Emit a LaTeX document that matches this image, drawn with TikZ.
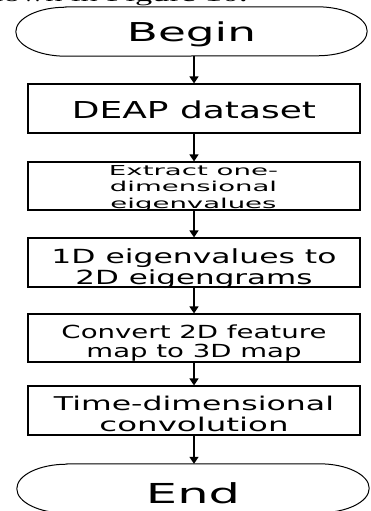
\documentclass[tikz,border=0pt]{standalone}
\usepackage{fontspec}
\setmainfont{DejaVu Sans}
\newfontfamily\serifcut{Liberation Serif}
\usetikzlibrary{arrows.meta}
\newcommand{\fitw}[2]{\resizebox{#1}{\height}{#2}}
\begin{document}
\begin{tikzpicture}[x=1pt,y=-1pt,
  stepbox/.style={draw, line width=1.2pt, minimum width=332pt, inner sep=0pt},
  termshape/.style={inner sep=0pt, minimum width=351pt, minimum height=49pt},
  termline/.style={line width=1pt},
  txt/.style={anchor=base, inner sep=0pt},
  flow/.style={line width=1.2pt, -{Triangle[length=7pt,width=9pt]}},
]
\useasboundingbox (0,0) rectangle (370,511);
\clip (0,0) rectangle (370,511);

% clipped fragment of the preceding text line
\node[anchor=base east, inner sep=0pt, font=\serifcut\fontsize{20}{20}\selectfont] (cut) at (248,1.5) {\fitw{275pt}{shown in Figure 10.}};

% terminators
\node[termshape] (begin) at (191.5,31.5) {};
\node[termshape, minimum width=352pt] (end) at (193,488.5) {};
\foreach \t in {begin,end}{
  \draw[termline] ([xshift=50pt]\t.north west) -- ([xshift=-50pt]\t.north east)
    arc[start angle=90, end angle=-90, x radius=50pt, y radius=24.5pt]
    -- ([xshift=50pt]\t.south west)
    arc[start angle=270, end angle=90, x radius=50pt, y radius=24.5pt] -- cycle;
}

% process boxes
\node[stepbox, minimum height=49pt] (deap) at (194,108.5) {};
\node[stepbox, minimum height=48pt] (extract) at (194,186) {};
\node[stepbox, minimum height=49pt] (oned) at (194,262.5) {};
\node[stepbox, minimum height=48pt] (convert) at (194,338) {};
\node[stepbox, minimum height=49pt] (time) at (194,410.5) {};

% texts
\node[txt, font=\fontsize{26}{26}\selectfont] (tbegin) at (191.5,42) {\fitw{129pt}{Begin}};
\node[txt, font=\fontsize{23.3}{23.3}\selectfont] (tdeap) at (194,118) {\fitw{244pt}{DEAP dataset}};
\node[txt, font=\fontsize{13.7}{13.7}\selectfont] (tex1) at (193.5,175) {\fitw{169pt}{Extract one-}};
\node[txt, font=\fontsize{13.7}{13.7}\selectfont] (tex2) at (193.5,191.5) {\fitw{167pt}{dimensional}};
\node[txt, font=\fontsize{13.7}{13.7}\selectfont] (tex3) at (193.5,208) {\fitw{166pt}{eigenvalues}};
\node[txt, font=\fontsize{19.5}{19.5}\selectfont] (t1d1) at (194,263.5) {\fitw{285pt}{1D eigenvalues to}};
\node[txt, font=\fontsize{19.5}{19.5}\selectfont] (t1d2) at (194,284) {\fitw{237pt}{2D eigengrams}};
\node[txt, font=\fontsize{18}{18}\selectfont] (tcv1) at (194,338) {\fitw{265pt}{Convert 2D feature}};
\node[txt, font=\fontsize{18}{18}\selectfont] (tcv2) at (194,357.5) {\fitw{215pt}{map to 3D map}};
\node[txt, font=\fontsize{19}{19}\selectfont] (ttm1) at (194,410) {\fitw{280pt}{Time-dimensional}};
\node[txt, font=\fontsize{19}{19}\selectfont] (ttm2) at (194,431) {\fitw{189pt}{convolution}};
\node[txt, font=\fontsize{27.5}{27.5}\selectfont] (tend) at (193,503) {\fitw{94pt}{End}};

% connectors
\draw[flow] (deap.north |- begin.south) -- (deap.north);
\draw[flow] (deap.south) -- (extract.north);
\draw[flow] (extract.south) -- (oned.north);
\draw[flow] (oned.south) -- (convert.north);
\draw[flow] (convert.south) -- (time.north);
\draw[flow] (time.south) -- (time.south |- end.north);
\end{tikzpicture}
\end{document}
